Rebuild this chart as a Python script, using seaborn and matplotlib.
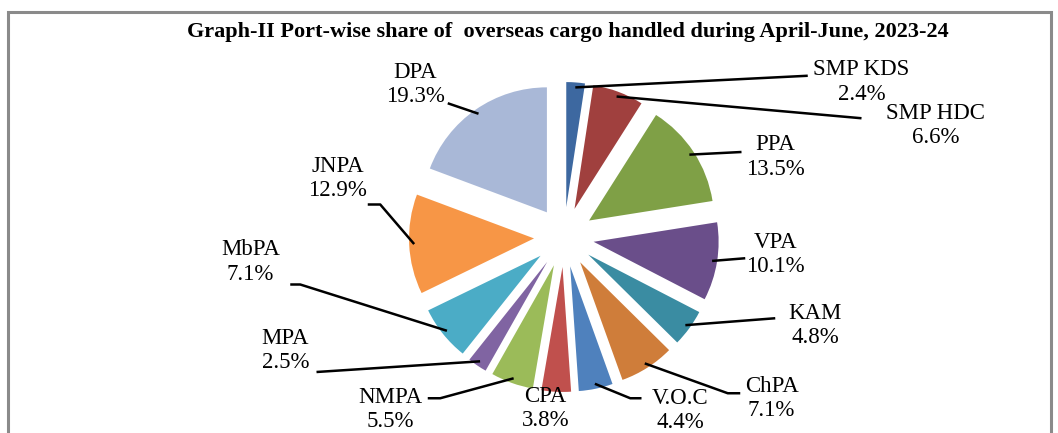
import numpy as np
import matplotlib
matplotlib.use("Agg")
import matplotlib.pyplot as plt
from matplotlib.patches import Rectangle
import seaborn as sns

"""
Data
"""
ports = ['SMP KDS', 'SMP HDC', 'PPA', 'VPA', 'KAM', 'ChPA', 'V.O.C', 'CPA',
         'NMPA', 'MPA', 'MbPA', 'JNPA', 'DPA']
share = [2.4, 6.6, 13.5, 10.1, 4.8, 7.1, 4.4, 3.8, 5.5, 2.5, 7.1, 12.9, 19.3]
colors = ['#3D68A0', '#A0403E', '#7FA046', '#6A4E8A', '#3A8CA2', '#CF7D3A',
          '#4F81BD', '#C0504D', '#9BBB59', '#8064A2', '#4BACC6', '#F79646',
          '#A9B8D7']

title = 'Graph-II Port-wise share of  overseas cargo handled during April-June, 2023-24'

"""
Layout (label text centre, leader line points)
"""
label_pos = {
    'SMP KDS': ((2.38, 1.24), [(1.95, 1.29)]),
    'SMP HDC': ((2.97, 0.89), [(2.38, 0.95)]),
    'PPA': ((1.69, 0.64), [(1.42, 0.68)]),
    'VPA': ((1.69, -0.14), [(1.45, -0.17)]),
    'KAM': ((2.01, -0.71), [(1.69, -0.65)]),
    'ChPA': ((1.66, -1.29), [(1.31, -1.25), (1.41, -1.25)]),
    'V.O.C': ((0.93, -1.39), [(0.53, -1.29), (0.62, -1.29)]),
    'CPA': ((-0.15, -1.37), []),
    'NMPA': ((-1.39, -1.38), [(-0.99, -1.29), (-1.09, -1.29)]),
    'MPA': ((-2.23, -0.91), [(-1.98, -1.08)]),
    'MbPA': ((-2.51, -0.20), [(-2.11, -0.38), (-2.19, -0.38)]),
    'JNPA': ((-1.81, 0.47), [(-1.47, 0.26), (-1.57, 0.26)]),
    'DPA': ((-1.19, 1.22), [(-0.93, 1.07)]),
}

EXPLODE = 0.24

sns.set_theme(style='white')
plt.rcParams['font.family'] = ['Liberation Serif', 'DejaVu Serif']


def main():
    fig = plt.figure(figsize=(10.58, 4.33), dpi=100)
    ax = fig.add_axes([0, 0, 1, 1])
    ax.pie(share, colors=colors, startangle=90, counterclock=False,
           explode=[EXPLODE] * len(share), radius=1,
           wedgeprops=dict(linewidth=0))
    ax.set_xlim(-4.512, 3.952)
    ax.set_ylim(-1.568, 1.896)
    ax.set_aspect('equal')
    ax.axis('off')

    total = sum(share)
    cum = np.cumsum([0] + share[:-1])
    for name, val, start in zip(ports, share, cum):
        mid = (start + val / 2) / total * 2 * np.pi
        sx, sy = 1.2 * np.sin(mid), 1.2 * np.cos(mid)
        (tx, ty), pts = label_pos[name]
        if pts:
            xs = [sx] + [p[0] for p in pts]
            ys = [sy] + [p[1] for p in pts]
            ax.plot(xs, ys, color='black', lw=1.8, solid_capstyle='butt')
        ax.text(tx, ty, f'{name}\n{val:.1f}%', ha='center', va='center',
                fontsize=16.5, linespacing=1.2, color='black')

    fig.text(0.537, 0.926, title, ha='center', va='center',
             fontsize=16, fontweight='bold', color='black')
    fig.patches.append(Rectangle((0.0076, -0.1), 0.986, 1.072,
                                 transform=fig.transFigure, fill=False,
                                 edgecolor='#8a8a8a', lw=2.2))
    fig.savefig('out.png', dpi=100)
    plt.close(fig)


if __name__ == '__main__':
    main()
